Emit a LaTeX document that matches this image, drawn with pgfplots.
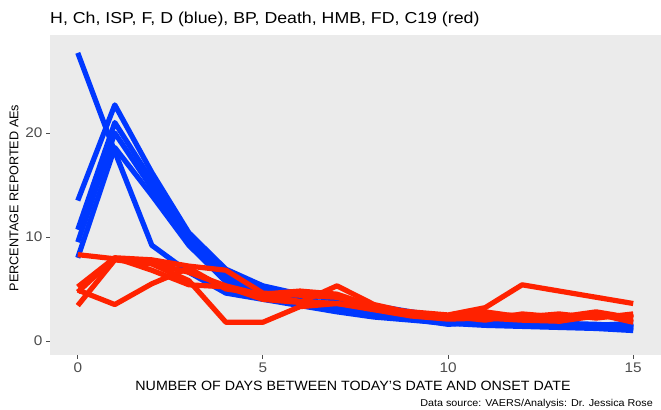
\documentclass[border=0pt]{standalone}
\usepackage{pgfplots}
\pgfplotsset{compat=1.18}
\usepackage{fontspec}
\setmainfont{Liberation Sans}
\definecolor{panelgrey}{RGB}{235,235,235}
\definecolor{tickgrey}{RGB}{77,77,77}
\definecolor{ggblue}{RGB}{0,56,255}
\definecolor{ggred}{RGB}{255,34,0}
\begin{document}
\begin{tikzpicture}
\useasboundingbox (-50bp,-55bp) rectangle (611bp,355bp);
\begin{axis}[
  at={(0,0)}, anchor=south west,
  scale only axis, width=611bp, height=320bp,
  xmin=-0.75, xmax=15.75, ymin=-1.35, ymax=29.42,
  axis background/.style={fill=panelgrey},
  axis line style={draw=none},
  xtick={0,5,10,15}, ytick={0,10,20},
  tick align=outside, major tick length=3.5bp,
  tick style={color=tickgrey, line width=0.9bp},
  xtick pos=bottom, ytick pos=left,
  /pgf/number format/assume math mode=true,
  ticklabel style={font=\fontsize{14}{14}\selectfont, text=tickgrey, xscale=1.1},
  xticklabel style={inner sep=1.5bp, yshift=-3bp},
  yticklabel style={inner sep=1.5bp, xshift=-2bp},
  every axis plot/.append style={line width=5.2bp, line join=round},
  clip=false,
]
% blue series: H, Ch, ISP, F, D
\addplot[ggblue] coordinates {(0,27.7)(1,18.2)(2,9.2)(3,6.6)(4,4.6)(5,4.0)(6,3.4)(7,2.8)(8,2.3)(9,2.0)(10,1.7)(11,1.5)(12,1.4)(13,1.3)(14,1.2)(15,1.0)};
\addplot[ggblue] coordinates {(0,13.5)(1,22.7)(2,16.2)(3,10.4)(4,6.9)(5,5.3)(6,4.5)(7,4.0)(8,3.4)(9,2.8)(10,2.3)(11,2.0)(12,1.9)(13,1.7)(14,1.6)(15,1.4)};
\addplot[ggblue] coordinates {(0,10.7)(1,21.0)(2,15.4)(3,10.0)(4,6.4)(5,4.9)(6,4.0)(7,3.5)(8,3.0)(9,2.4)(10,2.0)(11,1.7)(12,1.6)(13,1.5)(14,1.5)(15,1.3)};
\addplot[ggblue] coordinates {(0,9.5)(1,20.0)(2,14.7)(3,9.6)(4,6.0)(5,4.6)(6,3.7)(7,3.2)(8,2.7)(9,2.2)(10,1.8)(11,1.6)(12,1.5)(13,1.4)(14,1.4)(15,1.2)};
\addplot[ggblue] coordinates {(0,8.0)(1,18.6)(2,14.0)(3,9.2)(4,5.7)(5,4.4)(6,3.6)(7,3.1)(8,2.5)(9,2.1)(10,1.6)(11,1.8)(12,1.4)(13,1.7)(14,1.5)(15,1.7)};
% red series: BP, Death, HMB, FD, C19
\addplot[ggred] coordinates {(0,8.3)(1,7.9)(2,7.5)(3,6.6)(4,5.3)(5,4.4)(6,3.8)(7,3.6)(8,3.2)(9,2.8)(10,2.5)(11,3.2)(12,5.4)(13,4.8)(14,4.2)(15,3.6)};
\addplot[ggred] coordinates {(0,5.2)(1,8.0)(2,7.8)(3,7.2)(4,6.8)(5,4.6)(6,4.4)(7,4.2)(8,3.2)(9,2.6)(10,2.2)(11,2.8)(12,2.3)(13,2.6)(14,2.2)(15,2.6)};
\addplot[ggred] coordinates {(0,4.7)(1,8.0)(2,6.8)(3,5.4)(4,5.2)(5,4.0)(6,3.7)(7,5.3)(8,3.5)(9,2.7)(10,2.4)(11,2.0)(12,2.6)(13,2.3)(14,2.8)(15,2.2)};
\addplot[ggred] coordinates {(0,3.4)(1,7.8)(2,7.4)(3,5.8)(4,1.8)(5,1.8)(6,3.3)(7,3.6)(8,3.0)(9,2.4)(10,2.1)(11,2.2)(12,2.0)(13,1.9)(14,2.6)(15,1.8)};
\addplot[ggred] coordinates {(0,4.9)(1,3.5)(2,5.5)(3,7.0)(4,5.0)(5,4.5)(6,4.8)(7,4.5)(8,3.3)(9,2.6)(10,2.3)(11,2.4)(12,2.5)(13,1.9)(14,2.4)(15,2.3)};
\end{axis}
\node[anchor=base west, inner sep=0pt, xscale=1.12, font=\fontsize{15.9}{15.9}\selectfont] at (0bp,331bp) {H, Ch, ISP, F, D (blue), BP, Death, HMB, FD, C19 (red)};
\node[anchor=base, inner sep=0pt, xscale=1.06, font=\fontsize{13.5}{13.5}\selectfont] at (303bp,-35bp) {NUMBER OF DAYS BETWEEN TODAY'S DATE AND ONSET DATE};
\node[anchor=base east, inner sep=0pt, xscale=1.08, font=\fontsize{10}{10}\selectfont] at (603bp,-51bp) {Data source: VAERS/Analysis: Dr. Jessica Rose};
\node[rotate=90, inner sep=0pt, font=\fontsize{12.7}{12.7}\selectfont] at (-36bp,157bp) {PERCENTAGE REPORTED AEs};
\end{tikzpicture}
\end{document}
